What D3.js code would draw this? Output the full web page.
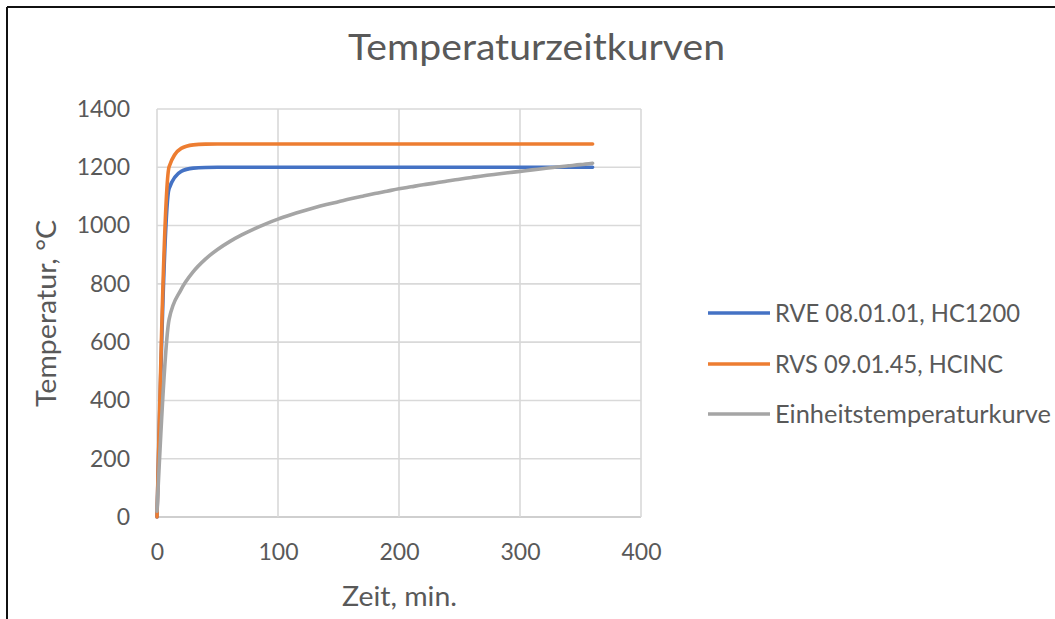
<!DOCTYPE html>
<html>
<head>
<meta charset="utf-8">
<script src="https://cdn.jsdelivr.net/npm/d3@7"></script>
<style>
  html, body { margin: 0; padding: 0; background: #fff; }
  svg { display: block; }
  text { font-family: Lato, "Open Sans", sans-serif; fill: #595959; }
</style>
</head>
<body>
<svg id="chart" width="1055" height="619"></svg>
<script>
// ---- data ----
const times = [0,10,20,30,40,50,60,70,80,90,100,110,120,130,140,150,160,170,180,190,200,210,220,230,240,250,260,270,280,290,300,310,320,330,340,350,360];
const hc1200 = [0,1127,1186,1197,1199.5,1199.9,1200,1200,1200,1200,1200,1200,1200,1200,1200,1200,1200,1200,1200,1200,1200,1200,1200,1200,1200,1200,1200,1200,1200,1200,1200,1200,1200,1200,1200,1200,1200];
const hcinc = [0,1202,1265,1277,1279.5,1279.9,1280,1280,1280,1280,1280,1280,1280,1280,1280,1280,1280,1280,1280,1280,1280,1280,1280,1280,1280,1280,1280,1280,1280,1280,1280,1280,1280,1280,1280,1280,1280];
const etk = [20,678,781,842,885,918,945,968,988,1006,1022,1036,1049,1061,1072,1082,1092,1101,1110,1118,1126,1133,1140,1146,1153,1159,1165,1171,1176,1181,1186,1191,1196,1201,1205,1209,1214];
const seriesNames = ["RVE 08.01.01, HC1200", "RVS 09.01.45, HCINC", "Einheitstemperaturkurve"];
const seriesColors = ["#4472C4", "#ED7D31", "#A5A5A5"];
const xTicks = [0,100,200,300,400];
const yTicks = [0,200,400,600,800,1000,1200,1400];
const titleText = "Temperaturzeitkurven";
const xTitle = "Zeit, min.";
const yTitle = "Temperatur, °C";

const svg = d3.select("#chart");

// chart frame
svg.append("line").attr("x1", 7).attr("y1", 7).attr("x2", 1055).attr("y2", 7)
  .attr("stroke", "#111").attr("stroke-width", 2);
svg.append("line").attr("x1", 7).attr("y1", 7).attr("x2", 7).attr("y2", 619)
  .attr("stroke", "#111").attr("stroke-width", 2);

const x = d3.scaleLinear().domain([0, 400]).range([157, 641]);
const y = d3.scaleLinear().domain([0, 1400]).range([517, 109]);

// gridlines
const grid = svg.append("g");
grid.selectAll(".hg").data(yTicks).enter().append("line")
  .attr("x1", x(0)).attr("x2", x(400))
  .attr("y1", d => y(d)).attr("y2", d => y(d))
  .attr("stroke", d => d === 0 ? "#BFBFBF" : "#D9D9D9").attr("stroke-width", 1.6);
grid.selectAll(".vg").data(xTicks).enter().append("line")
  .attr("y1", y(0)).attr("y2", y(1400))
  .attr("x1", d => x(d)).attr("x2", d => x(d))
  .attr("stroke", "#D9D9D9").attr("stroke-width", 1.6);

// axes
const fmt = d3.format("d");
const yAxis = svg.append("g").attr("transform", `translate(${x(0)},0)`)
  .call(d3.axisLeft(y).tickValues(yTicks).tickFormat(fmt).tickSize(0).tickPadding(27));
const xAxis = svg.append("g").attr("transform", `translate(0,${y(0)})`)
  .call(d3.axisBottom(x).tickValues(xTicks).tickFormat(fmt).tickSize(0).tickPadding(27));
[yAxis, xAxis].forEach(a => {
  a.select(".domain").remove();
  a.selectAll("text").attr("font-size", 23).attr("font-family", "Lato, sans-serif").attr("fill", "#595959");
});

// lines
const allSeries = [hc1200, hcinc, etk];
const line = d3.line().x(d => x(d[0])).y(d => y(d[1])).curve(d3.curveMonotoneX);
allSeries.forEach((vals, i) => {
  svg.append("path")
    .datum(times.map((t, j) => [t, vals[j]]))
    .attr("fill", "none")
    .attr("stroke", seriesColors[i])
    .attr("stroke-width", 3.6)
    .attr("stroke-linejoin", "round")
    .attr("stroke-linecap", "round")
    .attr("d", line);
});

// title
svg.append("text").attr("x", 348).attr("y", 60)
  .attr("font-size", 37).attr("textLength", 377).attr("lengthAdjust", "spacingAndGlyphs")
  .text(titleText);

// axis titles
svg.append("text").attr("x", 342).attr("y", 606)
  .attr("font-size", 27).attr("textLength", 115).attr("lengthAdjust", "spacingAndGlyphs")
  .text(xTitle);
svg.append("text").attr("transform", "translate(56,407) rotate(-90)")
  .attr("font-size", 27).attr("textLength", 187).attr("lengthAdjust", "spacingAndGlyphs")
  .text(yTitle);

// legend
const legendY = [313, 364, 414];
const legendW = [245, 228, 276];
const lg = svg.append("g");
seriesNames.forEach((name, i) => {
  lg.append("line").attr("x1", 708).attr("x2", 770)
    .attr("y1", legendY[i]).attr("y2", legendY[i])
    .attr("stroke", seriesColors[i]).attr("stroke-width", 3.6);
  lg.append("text").attr("x", 775).attr("y", legendY[i] + 8.5)
    .attr("font-size", 25).attr("textLength", legendW[i]).attr("lengthAdjust", "spacingAndGlyphs")
    .text(name);
});
</script>
</body>
</html>
